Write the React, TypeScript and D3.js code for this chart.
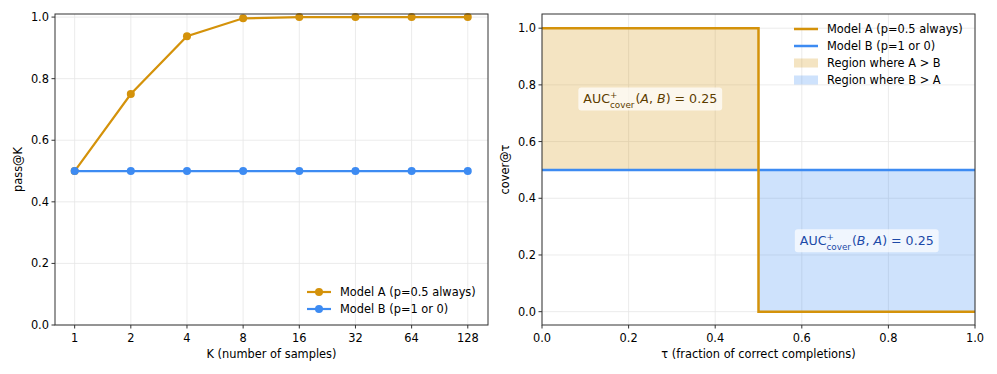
import React, { useEffect, useRef } from "react";
import * as d3 from "d3";

// left panel: pass@K
const kLabels = ["1", "2", "4", "8", "16", "32", "64", "128"];
const passA = [0.5, 0.75, 0.9375, 0.996, 1.0, 1.0, 1.0, 1.0];
const passB = [0.5, 0.5, 0.5, 0.5, 0.5, 0.5, 0.5, 0.5];

// right panel: cover@tau step curves
const tauA = [0, 0.5, 0.5, 1];
const coverA = [1, 1, 0, 0];
const tauB = [0, 1];
const coverB = [0.5, 0.5];

const yTicks = [0, 0.2, 0.4, 0.6, 0.8, 1.0];
const tauTicks = [0, 0.2, 0.4, 0.6, 0.8, 1.0];

const ORANGE = "#d4920a";
const BLUE = "#3d8bf2";
const FONT = "DejaVu Sans, sans-serif";
const FS = 11.4;

const App = () => {
  const ref = useRef<SVGSVGElement>(null);

  useEffect(() => {
    document.body.style.margin = "0";
    const svg = d3.select(ref.current);
    svg.selectAll("*").remove();
    svg.style("font-family", FONT);

    const drawFrame = (g, x0, x1, y0, y1) => {
      g.append("rect")
        .attr("x", x0)
        .attr("y", y0)
        .attr("width", x1 - x0)
        .attr("height", y1 - y0)
        .attr("fill", "none")
        .attr("stroke", "#333")
        .attr("stroke-width", 1);
    };

    // ---------- left panel ----------
    const L = { l: 55, r: 488, t: 14, b: 325 };
    const xL = d3.scaleLinear().domain([-0.35, 7.36]).range([L.l, L.r]);
    const yL = d3.scaleLinear().domain([0, 1.01]).range([L.b, L.t]);
    const gL = svg.append("g");

    kLabels.forEach((_, i) => {
      gL.append("line")
        .attr("x1", xL(i)).attr("x2", xL(i))
        .attr("y1", L.t).attr("y2", L.b)
        .attr("stroke", "#e6e6e6").attr("stroke-width", 0.8);
    });
    yTicks.forEach((v) => {
      gL.append("line")
        .attr("x1", L.l).attr("x2", L.r)
        .attr("y1", yL(v)).attr("y2", yL(v))
        .attr("stroke", "#e6e6e6").attr("stroke-width", 0.8);
    });

    const lineL = d3.line<number>().x((_, i) => xL(i)).y((d) => yL(d));
    [
      { data: passA, color: ORANGE },
      { data: passB, color: BLUE },
    ].forEach((s) => {
      gL.append("path")
        .attr("d", lineL(s.data))
        .attr("fill", "none")
        .attr("stroke", s.color)
        .attr("stroke-width", 2.2);
      gL.selectAll(null)
        .data(s.data)
        .enter()
        .append("circle")
        .attr("cx", (_, i) => xL(i))
        .attr("cy", (d) => yL(d))
        .attr("r", 4)
        .attr("fill", s.color);
    });

    drawFrame(gL, L.l, L.r, L.t, L.b);

    kLabels.forEach((k, i) => {
      gL.append("line")
        .attr("x1", xL(i)).attr("x2", xL(i))
        .attr("y1", L.b).attr("y2", L.b + 3.5)
        .attr("stroke", "#333");
      gL.append("text")
        .attr("x", xL(i)).attr("y", L.b + 17)
        .attr("text-anchor", "middle")
        .attr("font-size", FS)
        .text(k);
    });
    yTicks.forEach((v) => {
      gL.append("line")
        .attr("x1", L.l - 3.5).attr("x2", L.l)
        .attr("y1", yL(v)).attr("y2", yL(v))
        .attr("stroke", "#333");
      gL.append("text")
        .attr("x", L.l - 6).attr("y", yL(v))
        .attr("dy", "0.35em")
        .attr("text-anchor", "end")
        .attr("font-size", FS)
        .text(v.toFixed(1));
    });
    gL.append("text")
      .attr("x", (L.l + L.r) / 2).attr("y", 358)
      .attr("text-anchor", "middle")
      .attr("font-size", FS)
      .text("K (number of samples)");
    gL.append("text")
      .attr("transform", `translate(22,${(L.t + L.b) / 2}) rotate(-90)`)
      .attr("text-anchor", "middle")
      .attr("font-size", FS)
      .text("pass@K");

    // left legend
    [
      { label: "Model A (p=0.5 always)", color: ORANGE },
      { label: "Model B (p=1 or 0)", color: BLUE },
    ].forEach((s, i) => {
      const y = 292 + i * 17;
      gL.append("line")
        .attr("x1", 307).attr("x2", 331)
        .attr("y1", y).attr("y2", y)
        .attr("stroke", s.color).attr("stroke-width", 2.2);
      gL.append("circle").attr("cx", 319).attr("cy", y).attr("r", 4).attr("fill", s.color);
      gL.append("text")
        .attr("x", 340).attr("y", y).attr("dy", "0.35em")
        .attr("font-size", FS)
        .text(s.label);
    });

    // ---------- right panel ----------
    const R = { l: 542, r: 975, t: 14, b: 325 };
    const xR = d3.scaleLinear().domain([0, 1]).range([R.l, R.r]);
    const yR = d3.scaleLinear().domain([-0.047, 1.05]).range([R.b, R.t]);
    const gR = svg.append("g");

    tauTicks.forEach((v) => {
      gR.append("line")
        .attr("x1", xR(v)).attr("x2", xR(v))
        .attr("y1", R.t).attr("y2", R.b)
        .attr("stroke", "#e6e6e6").attr("stroke-width", 0.8);
    });
    yTicks.forEach((v) => {
      gR.append("line")
        .attr("x1", R.l).attr("x2", R.r)
        .attr("y1", yR(v)).attr("y2", yR(v))
        .attr("stroke", "#e6e6e6").attr("stroke-width", 0.8);
    });

    // fill regions between the curves
    const area = d3
      .area<[number, number, number]>()
      .x((d) => xR(d[0]))
      .y0((d) => yR(d[1]))
      .y1((d) => yR(d[2]));
    gR.append("path")
      .attr("d", area([[0, coverB[0], coverA[0]], [0.5, coverB[0], coverA[1]]]))
      .attr("fill", ORANGE)
      .attr("fill-opacity", 0.25);
    gR.append("path")
      .attr("d", area([[0.5, coverA[2], coverB[1]], [1, coverA[3], coverB[1]]]))
      .attr("fill", BLUE)
      .attr("fill-opacity", 0.25);

    const lineR = d3.line<[number, number]>().x((d) => xR(d[0])).y((d) => yR(d[1]));
    gR.append("path")
      .attr("d", lineR(tauB.map((t, i) => [t, coverB[i]])))
      .attr("fill", "none")
      .attr("stroke", BLUE)
      .attr("stroke-width", 2.5);
    gR.append("path")
      .attr("d", lineR(tauA.map((t, i) => [t, coverA[i]])))
      .attr("fill", "none")
      .attr("stroke", ORANGE)
      .attr("stroke-width", 2.5);

    // annotations with super/subscript
    const annotate = (cx, cy, label, color) => {
      const g = gR.append("g");
      const rect = g.append("rect");
      const t = g.append("text")
        .attr("y", cy)
        .attr("dy", "0.35em")
        .attr("font-size", 12.6)
        .attr("fill", color);
      t.append("tspan").attr("x", 0).text("AUC");
      const wAUC = (t.node() as SVGTextElement).getComputedTextLength();
      t.append("tspan").attr("x", wAUC).attr("dy", -5.5).attr("font-size", 8.8).text("+");
      const sub = t.append("tspan").attr("x", wAUC).attr("dy", 10).attr("font-size", 8.8).text("cover");
      const wSub = (sub.node() as SVGTSpanElement).getComputedTextLength();
      const rest = t.append("tspan").attr("x", wAUC + wSub + 1).attr("dy", -4.5);
      rest.append("tspan").text("(");
      rest.append("tspan").attr("font-style", "italic").text(label[0]);
      rest.append("tspan").text(", ");
      rest.append("tspan").attr("font-style", "italic").text(label[1]);
      rest.append("tspan").text(") = 0.25");
      const bb = (t.node() as SVGTextElement).getBBox();
      const shift = cx - bb.width / 2;
      t.attr("transform", `translate(${shift},0)`);
      rect
        .attr("x", shift + bb.x - 5)
        .attr("y", cy - 11.5)
        .attr("width", bb.width + 10)
        .attr("height", 23)
        .attr("rx", 3)
        .attr("fill", "#ffffff")
        .attr("fill-opacity", 0.7);
    };
    annotate(xR(0.25), yR(0.75), "AB", "#5c3d00");
    annotate(xR(0.75), yR(0.25), "BA", "#1c4aa8");

    drawFrame(gR, R.l, R.r, R.t, R.b);

    tauTicks.forEach((v) => {
      gR.append("line")
        .attr("x1", xR(v)).attr("x2", xR(v))
        .attr("y1", R.b).attr("y2", R.b + 3.5)
        .attr("stroke", "#333");
      gR.append("text")
        .attr("x", xR(v)).attr("y", R.b + 17)
        .attr("text-anchor", "middle")
        .attr("font-size", FS)
        .text(v.toFixed(1));
    });
    yTicks.forEach((v) => {
      gR.append("line")
        .attr("x1", R.l - 3.5).attr("x2", R.l)
        .attr("y1", yR(v)).attr("y2", yR(v))
        .attr("stroke", "#333");
      gR.append("text")
        .attr("x", R.l - 6).attr("y", yR(v))
        .attr("dy", "0.35em")
        .attr("text-anchor", "end")
        .attr("font-size", FS)
        .text(v.toFixed(1));
    });
    gR.append("text")
      .attr("x", (R.l + R.r) / 2).attr("y", 358)
      .attr("text-anchor", "middle")
      .attr("font-size", FS)
      .text("τ (fraction of correct completions)");
    gR.append("text")
      .attr("transform", `translate(509,${(R.t + R.b) / 2}) rotate(-90)`)
      .attr("text-anchor", "middle")
      .attr("font-size", FS)
      .text("cover@τ");

    // right legend
    const legR = [
      { label: "Model A (p=0.5 always)", color: ORANGE, kind: "line" },
      { label: "Model B (p=1 or 0)", color: BLUE, kind: "line" },
      { label: "Region where A > B", color: ORANGE, kind: "patch" },
      { label: "Region where B > A", color: BLUE, kind: "patch" },
    ];
    legR.forEach((s, i) => {
      const y = 29 + i * 17;
      if (s.kind === "line") {
        gR.append("line")
          .attr("x1", 794).attr("x2", 818)
          .attr("y1", y).attr("y2", y)
          .attr("stroke", s.color).attr("stroke-width", 2.5);
      } else {
        gR.append("rect")
          .attr("x", 794).attr("y", y - 4.5)
          .attr("width", 24).attr("height", 9)
          .attr("fill", s.color).attr("fill-opacity", 0.25);
      }
      gR.append("text")
        .attr("x", 827).attr("y", y).attr("dy", "0.35em")
        .attr("font-size", FS)
        .text(s.label);
    });
  }, []);

  return <svg ref={ref} width={997} height={374} style={{ display: "block" }}></svg>;
};

export default App;
